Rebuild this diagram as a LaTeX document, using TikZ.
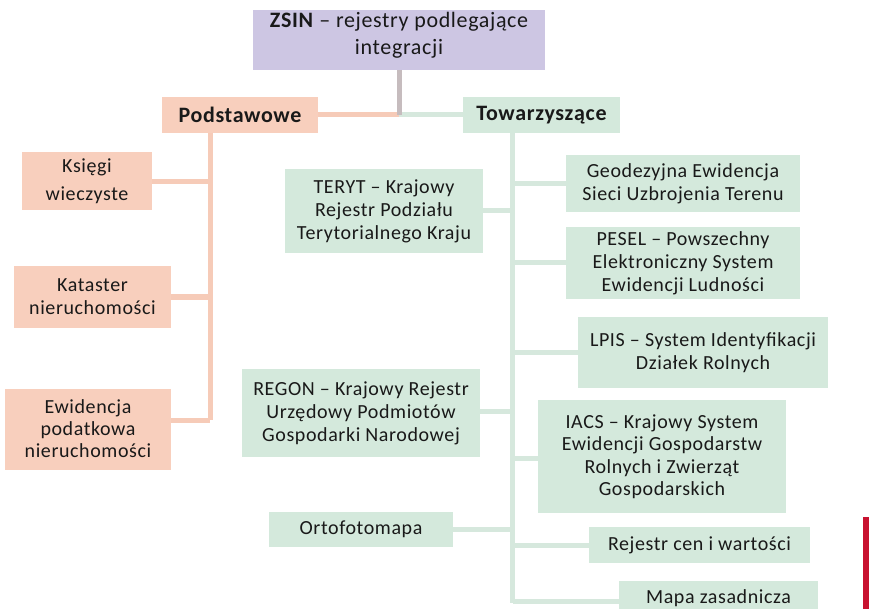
\documentclass[tikz,border=0pt]{standalone}
\usepackage{fontspec}
\setmainfont{Carlito}[LetterSpace=3]
\definecolor{lav}{RGB}{205,198,227}
\definecolor{salm}{RGB}{248,207,189}
\definecolor{grn}{RGB}{212,233,220}
\definecolor{gline}{RGB}{198,188,190}
\definecolor{sline}{RGB}{246,203,184}
\definecolor{grline}{RGB}{214,232,221}
\definecolor{txt}{RGB}{25,25,25}
\definecolor{redbar}{RGB}{200,18,48}
\begin{document}
\begin{tikzpicture}[x=1pt,y=-1pt,
  every node/.style={inner sep=0pt,outer sep=0pt,align=center,text=txt,font=\fontsize{20}{23}\selectfont},
  pbox/.style={fill=salm},
  gbox/.style={fill=grn},
  hbox/.style={font=\fontsize{22}{23}\selectfont\bfseries},
  sl/.style={draw=sline,line width=5pt},
  gl/.style={draw=grline,line width=5pt},
  ml/.style={draw=gline,line width=5pt}]
\useasboundingbox (0,0) rectangle (869,609);
% top
\node[fill=lav,minimum width=292pt,minimum height=60pt] (zsin) at (399,40) {};
\node[font=\fontsize{22}{27}\selectfont] (zsint) at (399,35.5) {\textbf{ZSIN} -- rejestry podlegające\\integracji};
\node[pbox,hbox,minimum width=156pt,minimum height=36pt] (pod) at (240,115) {Podstawowe};
\node[gbox,hbox,minimum width=157pt,minimum height=36pt] (tow) at (541.5,115) {Towarzyszące};
% left column
\node[pbox,minimum width=130pt,minimum height=58pt,font=\fontsize{20}{28}\selectfont] (ksi) at (87,181.5) {Księgi\\wieczyste};
\node[pbox,minimum width=157pt,minimum height=62pt] (kat) at (92.5,297) {Kataster\\nieruchomości};
\node[pbox,minimum width=166pt,minimum height=81pt,font=\fontsize{20}{22}\selectfont] (ewi) at (88,429) {Ewidencja\\podatkowa\\nieruchomości};
% right side
\node[gbox,minimum width=234pt,minimum height=57pt] (geo) at (683,183.5) {Geodezyjna Ewidencja\\Sieci Uzbrojenia Terenu};
\node[gbox,minimum width=198pt,minimum height=84pt] (ter) at (384,211) {TERYT -- Krajowy\\Rejestr Podziału\\Terytorialnego Kraju};
\node[gbox,minimum width=234pt,minimum height=72pt] (pes) at (683,263) {PESEL -- Powszechny\\Elektroniczny System\\Ewidencji Ludności};
\node[gbox,minimum width=250pt,minimum height=71pt] (lpi) at (703,352.5) {LPIS -- System Identyfikacji\\Działek Rolnych};
\node[gbox,minimum width=238pt,minimum height=88pt] (reg) at (361,413) {REGON -- Krajowy Rejestr\\Urzędowy Podmiotów\\Gospodarki Narodowej};
\node[gbox,minimum width=248pt,minimum height=113pt,font=\fontsize{20}{22.5}\selectfont] (iac) at (662,456.5) {IACS -- Krajowy System\\Ewidencji Gospodarstw\\Rolnych i Zwierząt\\Gospodarskich};
\node[gbox,minimum width=184pt,minimum height=35pt] (ort) at (361,529.5) {Ortofotomapa};
\node[gbox,minimum width=221pt,minimum height=36pt] (rej) at (699.5,545) {Rejestr cen i wartości};
\node[gbox,minimum width=199pt,minimum height=38pt] (map) at (718.5,600) {};
\node (mapt) at (718.5,598) {Mapa zasadnicza};
% connectors top
\coordinate (j) at (zsin.south |- pod.east);
\draw[sl] (pod.east) -- (j);
\draw[gl] (j) -- (tow.west);
\draw[ml] (zsin.south) -- (j);
% left trunk
\coordinate (pt) at ([xshift=-30pt]pod.south);
\coordinate (pe) at ([yshift=9pt]ewi.east);
\draw[sl] (pt) -- (pt |- pe);
\draw[sl] (ksi.east) -- (pt |- ksi.east);
\draw[sl] (kat.east) -- (pt |- kat.east);
\draw[sl] (pe) -- (pt |- pe);
% right trunk
\coordinate (tt) at ([xshift=-29pt]tow.south);
\coordinate (me) at ([yshift=-1pt]map.west);
\coordinate (re) at ([yshift=2pt]reg.east);
\coordinate (ie) at ([yshift=-1.5pt]iac.west);
\draw[gl] (tt) -- ([yshift=-2pt]tt |- me);
\draw[gl] (tt |- geo.west) -- (geo.west);
\draw[gl] (ter.east) -- (tt |- ter.east);
\draw[gl] (tt |- pes.west) -- (pes.west);
\draw[gl] (tt |- lpi.west) -- (lpi.west);
\draw[gl] (re) -- (tt |- re);
\draw[gl] (ie) -- (tt |- ie);
\draw[gl] (ort.east) -- (tt |- ort.east);
\draw[gl] (tt |- rej.west) -- (rej.west);
\draw[gl] (tt |- me) -- (me);
% red bar
\fill[redbar] (863,517) rectangle (870,610);
\end{tikzpicture}
\end{document}
